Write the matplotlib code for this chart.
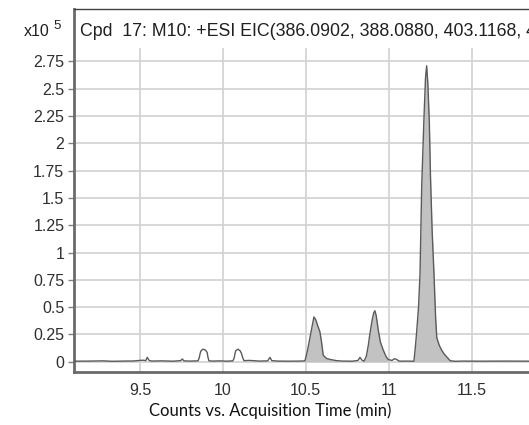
import numpy as np
import matplotlib
matplotlib.use("Agg")
from matplotlib import pyplot as plt

# EIC trace (time in min, counts in x10^5)
time = [9.102, 9.20, 9.28, 9.33, 9.40, 9.46, 9.50, 9.52, 9.535, 9.544, 9.555,
        9.57, 9.63, 9.70, 9.745, 9.755, 9.765, 9.80, 9.850, 9.856, 9.866,
        9.875, 9.882, 9.896, 9.905, 9.910, 9.916, 9.94, 9.98, 10.02, 10.06,
        10.067, 10.077, 10.091, 10.104, 10.111, 10.120, 10.127, 10.16, 10.22,
        10.27, 10.284, 10.295, 10.33, 10.40, 10.47, 10.495, 10.510, 10.525,
        10.540, 10.549, 10.560, 10.572, 10.585, 10.595, 10.605, 10.625,
        10.650, 10.685, 10.72, 10.78, 10.815, 10.827, 10.838, 10.851, 10.865,
        10.877, 10.887, 10.900, 10.910, 10.917, 10.925, 10.937, 10.950,
        10.967, 10.985, 10.997, 11.02, 11.035, 11.045, 11.065, 11.10, 11.140,
        11.152, 11.160, 11.168, 11.180, 11.189, 11.199, 11.212, 11.222,
        11.229, 11.236, 11.245, 11.252, 11.262, 11.273, 11.283, 11.290,
        11.305, 11.319, 11.335, 11.349, 11.370, 11.400, 11.45, 11.55, 11.70,
        11.85, 12.0]
counts = [0.005, 0.006, 0.008, 0.004, 0.006, 0.007, 0.012, 0.014, 0.010,
          0.040, 0.012, 0.006, 0.008, 0.005, 0.010, 0.025, 0.008, 0.006,
          0.008, 0.030, 0.095, 0.110, 0.115, 0.105, 0.085, 0.040, 0.008,
          0.006, 0.008, 0.005, 0.008, 0.030, 0.100, 0.115, 0.100, 0.080,
          0.035, 0.010, 0.012, 0.006, 0.008, 0.040, 0.010, 0.006, 0.005,
          0.006, 0.008, 0.100, 0.220, 0.340, 0.410, 0.385, 0.330, 0.275,
          0.180, 0.060, 0.030, 0.020, 0.010, 0.006, 0.005, 0.012, 0.040,
          0.015, 0.005, 0.050, 0.150, 0.260, 0.380, 0.450, 0.467, 0.420,
          0.290, 0.180, 0.107, 0.045, 0.020, 0.012, 0.028, 0.022, 0.005,
          0.006, 0.005, 0.005, 0.120, 0.260, 0.500, 0.810, 1.600, 2.200,
          2.600, 2.710, 2.550, 2.200, 1.700, 1.200, 0.810, 0.400, 0.220,
          0.150, 0.107, 0.070, 0.046, 0.010, 0.004, 0.006, 0.005, 0.006,
          0.005, 0.005]

# integrated (shaded) peak windows
peak_windows = [(10.495, 10.70), (10.851, 11.00), (11.152, 11.40)]

xticks = [9.5, 10, 10.5, 11, 11.5]
xtick_labels = ['9.5', '10', '10.5', '11', '11.5']
yticks = [0, 0.25, 0.5, 0.75, 1, 1.25, 1.5, 1.75, 2, 2.25, 2.5, 2.75]
ytick_labels = ['0', '0.25', '0.5', '0.75', '1', '1.25', '1.5', '1.75', '2',
                '2.25', '2.5', '2.75']

title = 'Cpd  17: M10: +ESI EIC(386.0902, 388.0880, 403.1168, 405.1140) Scan Frag=120.0V'
xlabel = 'Counts vs. Acquisition Time (min)'

plt.rcParams['font.family'] = ['Liberation Sans', 'DejaVu Sans']

W, H = 529, 425
fig = plt.figure(figsize=(W / 100, H / 100), dpi=100)
ax = fig.add_axes([74 / W, (H - 372) / H, 480.5 / W, 363 / H])

x = np.array(time)
y = np.array(counts)

for a, b in peak_windows:
    m = (x >= a) & (x <= b)
    ax.fill_between(x[m], 0, y[m], color='#c2c2c2', lw=0, zorder=2)
ax.plot(x, y, color='#5a5a5a', lw=1.0, zorder=3)

ax.set_xlim(9.102, 12.0)
ax.set_ylim(-0.094, 3.23)

# grid: horizontal lines full width, vertical lines stop below the title band
for yt in yticks:
    ax.axhline(yt, color='#d4d4d4', lw=1.3, zorder=1)
ax.vlines(xticks, -0.094, 2.87, color='#d4d4d4', lw=1.3, zorder=1)

ax.set_xticks(xticks)
ax.set_xticklabels(xtick_labels)
ax.set_yticks(yticks)
ax.set_yticklabels(ytick_labels)
ax.tick_params(axis='x', length=0, pad=8, labelsize=11.5, labelcolor='#303030')
ax.tick_params(axis='y', length=4, width=1, color='#808080', pad=3,
               labelsize=11.5, labelcolor='#303030')

for s in ['left', 'bottom']:
    ax.spines[s].set_color('#6a6a6a')
    ax.spines[s].set_linewidth(2)
ax.spines['top'].set_color('#404040')
ax.spines['top'].set_linewidth(1)
ax.spines['right'].set_visible(False)

fig.text(80 / W, (H - 31) / H, title, fontsize=12.8, color='#202020',
         va='center')
fig.text(24 / W, (H - 31) / H, 'x10', fontsize=11.5, color='#202020',
         va='center')
fig.text(53 / W, (H - 26) / H, '5', fontsize=9.5, color='#202020',
         va='center')

fig.text(270 / W, (H - 411) / H, xlabel, fontsize=12, color='#111111',
         ha='center', va='center', family=['Lato', 'DejaVu Sans'])

fig.savefig('out.png', dpi=100)
